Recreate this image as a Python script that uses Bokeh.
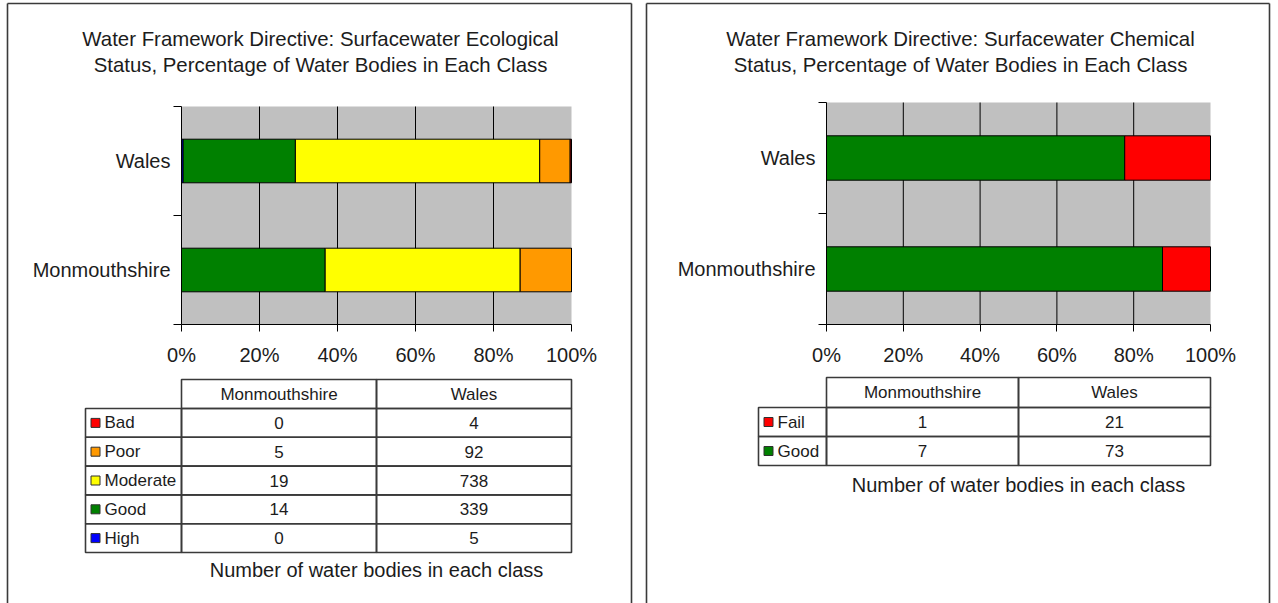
from bokeh.plotting import figure
from bokeh.models import (Range1d, FixedTicker, PrintfTickFormatter, ColumnDataSource,
                          LinearAxis)
from bokeh.layouts import row
from bokeh.core.properties import value
from bokeh.embed import file_html
from bokeh.resources import INLINE

# ---------------- data ----------------
areas = ["Monmouthshire", "Wales"]

eco_title = ["Water Framework Directive: Surfacewater Ecological",
             "Status, Percentage of Water Bodies in Each Class"]
eco_classes = ["High", "Good", "Moderate", "Poor", "Bad"]
eco_colors = ["#0000FF", "#008000", "#FFFF00", "#FF9900", "#FF0000"]
eco_monmouthshire = [0, 14, 19, 5, 0]
eco_wales = [5, 339, 738, 92, 4]

chem_title = ["Water Framework Directive: Surfacewater Chemical",
              "Status, Percentage of Water Bodies in Each Class"]
chem_classes = ["Good", "Fail"]
chem_colors = ["#008000", "#FF0000"]
chem_monmouthshire = [7, 1]
chem_wales = [73, 21]

pct_ticks = [0, 20, 40, 60, 80, 100]
caption = "Number of water bodies in each class"

FONT = "Liberation Sans"
TXT = "#1c1c1c"
EDGE = "#3a3a3a"
H = 603


def value_at_edges(v0, v1, p0, p1, size):
    """Values found at canvas pixel 0 and pixel `size`, given v0 at p0 and v1 at p1."""
    s = (v1 - v0) / (p1 - p0)
    return v0 - p0 * s, v0 + (size - p0) * s


def panel(title_lines, classes, colors, counts, W, plot_box, title_x, border_x,
          x_cols, top, head_h, row_h, cap_xy):
    px0, px1, py_top, py_bot = plot_box
    n_areas = len(areas)
    x_left, x_right = value_at_edges(0, 100, px0, px1, W)
    y_top, y_bottom = value_at_edges(0, n_areas, py_bot, py_top, H)
    p = figure(width=W, height=H, x_range=Range1d(x_left, x_right),
               y_range=Range1d(y_bottom, y_top),
               output_backend="svg", toolbar_location=None, min_border=0,
               x_axis_location=None, y_axis_location=None)
    p.toolbar.logo = None
    p.grid.visible = False
    p.outline_line_color = None
    p.background_fill_color = "white"
    p.border_fill_color = "white"
    p.extra_x_ranges = {"px": Range1d(0, W)}
    p.extra_y_ranges = {"px": Range1d(H, 0)}

    # plot area background and vertical grid lines
    p.quad(left=[pct_ticks[0]], right=[pct_ticks[-1]], bottom=[0], top=[n_areas],
           fill_color="#C0C0C0", line_color=None)
    grid = pct_ticks[1:-1]
    p.segment(x0=grid, y0=[0] * len(grid), x1=grid, y1=[n_areas] * len(grid),
              line_color="black", line_width=1)

    # stacked 100% bars
    data = {"y": [i + 0.5 for i in range(n_areas)]}
    for k, c in enumerate(classes):
        data[c] = [counts[a][k] / sum(counts[a]) * 100 for a in areas]
    p.hbar_stack(classes, y="y", height=0.4, fill_color=colors, line_color="black",
                 line_width=1, source=ColumnDataSource(data))

    xa = LinearAxis(fixed_location=0, bounds=(0, 100),
                    ticker=FixedTicker(ticks=pct_ticks),
                    formatter=PrintfTickFormatter(format="%d%%"))
    xa.major_tick_in = 0
    xa.major_tick_out = 7
    xa.minor_tick_line_color = None
    xa.axis_line_color = "black"
    xa.major_tick_line_color = "black"
    xa.major_label_standoff = 12
    xa.major_label_text_font = FONT
    xa.major_label_text_font_size = "20px"
    xa.major_label_text_color = TXT
    p.add_layout(xa, "below")

    ya = LinearAxis(fixed_location=0, bounds=(0, n_areas),
                    ticker=FixedTicker(ticks=[i + 0.5 for i in range(n_areas)],
                                       minor_ticks=list(range(n_areas + 1))))
    ya.major_label_overrides = {i + 0.5: a for i, a in enumerate(areas)}
    ya.major_tick_line_color = None
    ya.major_tick_in = 0
    ya.major_tick_out = 0
    ya.minor_tick_in = 0
    ya.minor_tick_out = 8
    ya.minor_tick_line_color = "black"
    ya.axis_line_color = "black"
    ya.major_label_standoff = 3
    ya.major_label_text_font = FONT
    ya.major_label_text_font_size = "20px"
    ya.major_label_text_color = TXT
    p.add_layout(ya, "left")

    R = dict(x_range_name="px", y_range_name="px")

    # titles
    p.text(x=[title_x] * len(title_lines), y=[38 + 26 * i for i in range(len(title_lines))],
           text=title_lines, text_align="center", text_baseline="middle",
           text_font=value(FONT), text_font_size=value("20.4px"), text_color=TXT, **R)

    # panel border
    p.segment(x0=[border_x[0], border_x[1], border_x[0]], y0=[H, H, 3],
              x1=[border_x[0], border_x[1], border_x[1]], y1=[3, 3, 3],
              line_color=EDGE, line_width=1.6, **R)

    # table of counts (rows in reverse stacking order)
    rows = classes[::-1]
    row_colors = colors[::-1]
    leg_l, c1, c2, c3 = x_cols
    p.quad(left=[c1, c2], right=[c2, c3], top=[top, top], bottom=[top + head_h] * 2,
           fill_color=None, line_color=EDGE, line_width=1.6, **R)
    p.text(x=[(c1 + c2) / 2, (c2 + c3) / 2], y=[top + head_h / 2] * 2, text=areas,
           text_align="center", text_baseline="middle", text_font=value(FONT),
           text_font_size=value("17px"), text_color=TXT, **R)
    y0 = top + head_h
    n = len(rows)
    tops = [y0 + i * row_h for i in range(n)]
    bots = [y0 + (i + 1) * row_h for i in range(n)]
    mids = [(a + b) / 2 for a, b in zip(tops, bots)]
    for l, r in ((leg_l, c1), (c1, c2), (c2, c3)):
        p.quad(left=[l] * n, right=[r] * n, top=tops, bottom=bots,
               fill_color=None, line_color=EDGE, line_width=1.6, **R)
    p.rect(x=[leg_l + 10] * n, y=mids, width=9, height=9, fill_color=row_colors,
           line_color="#303030", line_width=1, **R)
    p.text(x=[leg_l + 19] * n, y=mids, text=rows, text_align="left", text_baseline="middle",
           text_font=value(FONT), text_font_size=value("17px"), text_color=TXT, **R)
    for k, a in enumerate(areas):
        cx = (c1 + c2) / 2 if k == 0 else (c2 + c3) / 2
        p.text(x=[cx] * n, y=mids, text=[str(v) for v in counts[a][::-1]],
               text_align="center", text_baseline="middle", text_font=value(FONT),
               text_font_size=value("17px"), text_color=TXT, **R)
    p.text(x=[cap_xy[0]], y=[cap_xy[1]], text=[caption], text_align="center",
           text_baseline="middle", text_font=value(FONT), text_font_size=value("20px"),
           text_color=TXT, **R)
    return p


eco_counts = {"Monmouthshire": eco_monmouthshire, "Wales": eco_wales}
chem_counts = {"Monmouthshire": chem_monmouthshire, "Wales": chem_wales}

left = panel(eco_title, eco_classes, eco_colors, eco_counts, W=640,
             plot_box=(181, 571, 106, 324), title_x=320, border_x=(7, 631),
             x_cols=(85, 181, 376, 571), top=379, head_h=29, row_h=28.8,
             cap_xy=(376, 569))
right = panel(chem_title, chem_classes, chem_colors, chem_counts, W=638,
              plot_box=(186, 570, 102, 324), title_x=320, border_x=(6, 629),
              x_cols=(118, 186, 378, 570), top=377, head_h=30, row_h=29,
              cap_xy=(378, 484))

layout = row(left, right)
open("out.html", "w").write(file_html(layout, INLINE))
